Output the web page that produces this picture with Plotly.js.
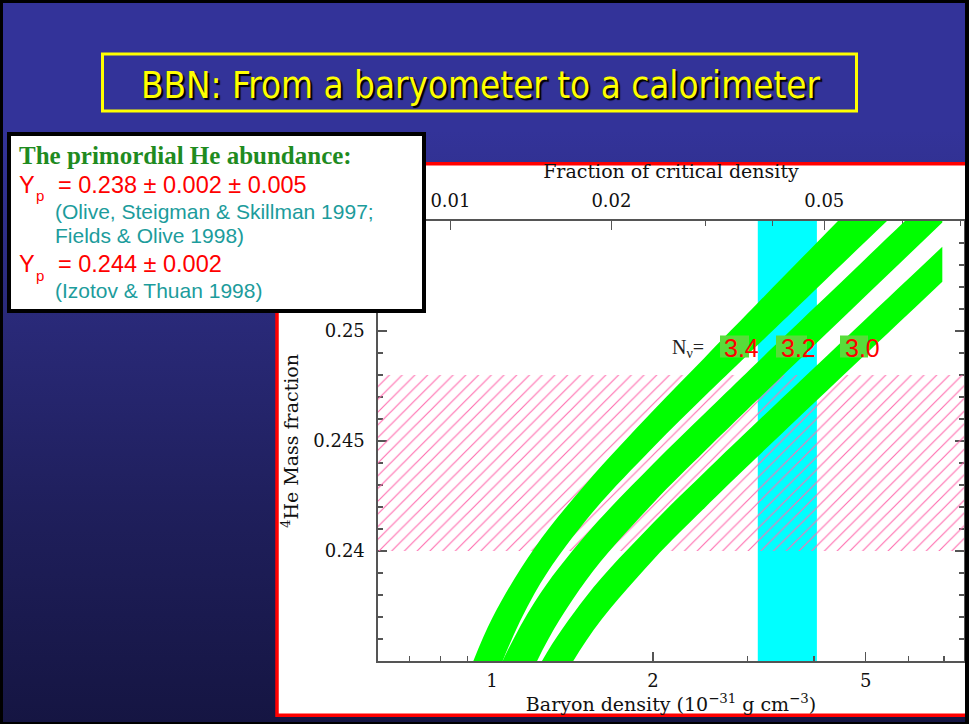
<!DOCTYPE html>
<html>
<head>
<meta charset="utf-8">
<script src="https://cdn.plot.ly/plotly-3.0.1.min.js"></script>
<style>
  html, body { margin: 0; padding: 0; }
  body {
    width: 969px; height: 724px; overflow: hidden; position: relative;
    background: linear-gradient(180deg, #333399 0%, #333399 18%, #2a2a7a 43%, #1f1f5c 70%, #151542 100%);
  }
  #chart { position: absolute; left: 0; top: 0; width: 969px; height: 724px; }
  #frame {
    position: absolute; left: 0; top: 0; width: 969px; height: 724px;
    box-sizing: border-box; border-style: solid; border-color: #000;
    border-width: 3px 4px 2px 3px; pointer-events: none;
  }
</style>
</head>
<body>
<div id="chart"></div>
<div id="frame"></div>
<script>
// ---- data -----------------------------------------------------------------
// Baryon density (10^-31 g cm^-3) at which the band edges are sampled
const rhoGrid = [0.9, 1.0, 1.2, 1.5, 2.0, 2.5, 3.0, 4.0, 5.0, 6.0, 6.95];

// 4He mass fraction along the upper / lower edge of each N_nu band
const yp34Upper = [0.23433, 0.23693, 0.24013, 0.24307, 0.24637, 0.24880, 0.25078, 0.25389, 0.25629, 0.25825, 0.25983];
const yp34Lower = [0.22971, 0.23373, 0.23806, 0.24141, 0.24470, 0.24704, 0.24890, 0.25182, 0.25408, 0.25592, 0.25740];
const yp32Upper = [0.23062, 0.23393, 0.23766, 0.24075, 0.24395, 0.24626, 0.24813, 0.25104, 0.25330, 0.25514, 0.25662];
const yp32Lower = [0.22351, 0.22909, 0.23474, 0.23867, 0.24217, 0.24454, 0.24642, 0.24934, 0.25160, 0.25344, 0.25493];
const yp30Upper = [0.22485, 0.22951, 0.23437, 0.23793, 0.24127, 0.24359, 0.24544, 0.24832, 0.25055, 0.25236, 0.25383];
const yp30Lower = [0.21739, 0.22451, 0.23145, 0.23592, 0.23959, 0.24197, 0.24384, 0.24673, 0.24896, 0.25077, 0.25224];

// N_nu value of each band
const nuLabels = ['3.4', '3.2', '3.0'];

// Observed primordial helium range (hatched) and preferred baryon density range (cyan)
const heliumRange = [0.240, 0.248];
const rhoBand = [3.14, 4.05];

// Axis ranges and ticks
const rhoRange = [0.612, 7.63];
const ypRange = [0.235, 0.255];
const criticalDensity = 83.6;          // 10^-31 g cm^-3, converts density to Omega_b
const rhoMajor = [1, 2, 5];
const rhoMinor = [0.7, 0.8, 0.9, 3, 4, 6, 7];
const omegaMajor = [0.01, 0.02, 0.05];
const omegaLabels = ['0.01', '0.02', '0.05'];
const omegaMinor = [0.03, 0.04, 0.06, 0.07, 0.08, 0.09];
const ypMajor = [0.24, 0.245, 0.25];
const ypLabels = ['0.24', '0.245', '0.25'];
const ypMinor = [0.236, 0.237, 0.238, 0.239, 0.241, 0.242, 0.243, 0.244,
                 0.246, 0.247, 0.248, 0.249, 0.251, 0.252, 0.253, 0.254];

// ---- page geometry ----------------------------------------------------------
const W = 969, H = 724;
const M = { l: 378, r: 5, t: 221, b: 63 };
const PW = W - M.l - M.r, PH = H - M.t - M.b;
const px = v => (v - M.l) / PW;            // page x -> paper x
const py = v => (H - M.b - v) / PH;        // page y -> paper y

const SERIF = '"DejaVu Serif", serif';
const TIMES = '"Liberation Serif", "Times New Roman", serif';
const ARIAL = '"Liberation Sans", Arial, sans-serif';
const COND = '"DejaVu Sans Condensed", "Liberation Sans Narrow", "Roboto Condensed", "DejaVu Sans", sans-serif';
const GREEN = '#00ff00';

// ---- traces -----------------------------------------------------------------
const traces = [];

// hatched helium abundance strip
traces.push({
  x: [rhoRange[0], rhoRange[1], rhoRange[1], rhoRange[0]],
  y: [heliumRange[0], heliumRange[0], heliumRange[1], heliumRange[1]],
  mode: 'lines', line: { width: 0 }, fill: 'toself',
  fillcolor: 'rgba(0,0,0,0)',
  fillpattern: { shape: '/', size: 9, solidity: 0.13, fgcolor: '#ff6fb0', bgcolor: 'rgba(0,0,0,0)' },
  hoverinfo: 'skip', showlegend: false
});

// BBN prediction bands
const bands = [[yp34Lower, yp34Upper], [yp32Lower, yp32Upper], [yp30Lower, yp30Upper]];
bands.forEach(([lo, hi]) => {
  const common = { x: rhoGrid, mode: 'lines', line: { width: 0, shape: 'spline', smoothing: 1, color: GREEN },
                   hoverinfo: 'skip', showlegend: false };
  traces.push(Object.assign({}, common, { y: lo }));
  traces.push(Object.assign({}, common, { y: hi, fill: 'tonexty', fillcolor: GREEN }));
});

// carrier for the top (Omega_b) axis
traces.push({ x: omegaMajor, y: omegaMajor.map(() => ypRange[0] - 1), xaxis: 'x2', yaxis: 'y',
              mode: 'markers', marker: { opacity: 0 }, hoverinfo: 'skip', showlegend: false });

// ---- axes -------------------------------------------------------------------
const tickStyle = { ticks: 'inside', tickcolor: '#555', tickwidth: 1.3 };
const axisBase = Object.assign({
  showgrid: false, zeroline: false, showline: true, linecolor: '#555', linewidth: 1.6,
  ticklen: 9, layer: 'below traces', tickmode: 'array',
  tickfont: { family: SERIF, size: 18, color: '#111' }
}, tickStyle);
const titleFont = { family: SERIF, size: 19, color: '#111' };

const lg = Math.log10;
const layout = {
  width: W, height: H, autosize: false,
  margin: { l: M.l, r: M.r, t: M.t, b: M.b, pad: 0 },
  paper_bgcolor: 'rgba(0,0,0,0)', plot_bgcolor: 'rgba(0,0,0,0)',
  showlegend: false,
  xaxis: Object.assign({}, axisBase, {
    type: 'log', range: [lg(rhoRange[0]), lg(rhoRange[1])],
    tickvals: rhoMajor, ticktext: rhoMajor.map(String), ticklabelstandoff: 3,
    minor: Object.assign({ tickmode: 'array', tickvals: rhoMinor, ticklen: 5 }, tickStyle),
    title: { text: 'Baryon density (10<sup>\u221231</sup> g cm<sup>\u22123</sup>)', font: titleFont, standoff: 5 }
  }),
  xaxis2: Object.assign({}, axisBase, {
    type: 'log', overlaying: 'x', anchor: 'y', side: 'top',
    range: [lg(rhoRange[0] / criticalDensity), lg(rhoRange[1] / criticalDensity)],
    tickvals: omegaMajor, ticktext: omegaLabels, ticklabelstandoff: 5,
    minor: Object.assign({ tickmode: 'array', tickvals: omegaMinor, ticklen: 5 }, tickStyle),
    title: { text: 'Fraction of critical density', font: titleFont, standoff: 6 }
  }),
  yaxis: Object.assign({}, axisBase, {
    range: ypRange, mirror: 'ticks',
    tickvals: ypMajor, ticktext: ypLabels, ticklabelstandoff: 8,
    minor: Object.assign({ tickmode: 'array', tickvals: ypMinor, ticklen: 5 }, tickStyle),
    title: { text: '<sup>4</sup>He Mass fraction', font: titleFont, standoff: 9 }
  }),
  shapes: [],
  annotations: []
};

// ---- decorations ------------------------------------------------------------
const S = layout.shapes, A = layout.annotations;

// white panel with red border holding the plot
S.push({ type: 'rect', xref: 'paper', yref: 'paper', layer: 'below',
         x0: px(277), x1: px(990), y0: py(163.7), y1: py(715.3),
         fillcolor: '#ffffff', line: { color: '#ff0000', width: 3.5 } });
// preferred density band
S.push({ type: 'rect', xref: 'x', yref: 'paper', layer: 'below',
         x0: rhoBand[0], x1: rhoBand[1], y0: 0, y1: 1,
         fillcolor: '#00ffff', line: { width: 0 } });
// slide title frame
S.push({ type: 'rect', xref: 'paper', yref: 'paper', layer: 'above',
         x0: px(102.5), x1: px(856.5), y0: py(54), y1: py(111),
         fillcolor: 'rgba(0,0,0,0)', line: { color: '#ffff00', width: 3 } });
// abundance box
S.push({ type: 'rect', xref: 'paper', yref: 'paper', layer: 'above',
         x0: px(9), x1: px(424), y0: py(134), y1: py(311),
         fillcolor: '#ffffff', line: { color: '#000000', width: 4 } });

const note = (text, x, y, font, xanchor) => A.push({
  text, xref: 'paper', yref: 'paper', x: px(x), y: py(y),
  xanchor: xanchor || 'left', yanchor: 'middle', showarrow: false, font
});

note('BBN: From a baryometer to a calorimeter', 480, 85,
     { family: COND, size: 36.5, color: '#ffff00', shadow: '2px 2px 1px #000' }, 'center');

const red = s => ({ family: ARIAL, size: s, color: '#ff0000' });
const teal = { family: ARIAL, size: 21, color: '#1c9c9c' };
note('The primordial He abundance:', 17, 155, { family: TIMES, size: 25, color: '#1f8b1f', weight: 'bold' });
note('Y', 17, 185, red(23.5));
note('p', 34, 196, red(15));
note('= 0.238 \u00b1 0.002 \u00b1 0.005', 56, 185, red(23.5));
note('(Olive, Steigman &amp; Skillman 1997;', 53, 211, teal);
note('Fields &amp; Olive 1998)', 53, 235, teal);
note('Y', 17, 264, red(23.5));
note('p', 34, 275, red(15));
note('= 0.244 \u00b1 0.002', 56, 264, red(23.5));
note('(Izotov &amp; Thuan 1998)', 53, 290, teal);

// N_nu labels on the bands
note('N<sub>\u03bd</sub>=', 670, 348, { family: TIMES, size: 20, color: '#222' });
const labelBoxes = [[720, 749], [776, 807], [840, 868]];
const labelText = [721.5, 779, 843];
nuLabels.forEach((t, i) => {
  S.push({ type: 'rect', xref: 'paper', yref: 'paper', layer: 'above',
           x0: px(labelBoxes[i][0]), x1: px(labelBoxes[i][1]), y0: py(335.5), y1: py(357.5),
           fillcolor: '#58dc3a', line: { width: 0 } });
  note(t, labelText[i], 348, red(25));
});

Plotly.newPlot('chart', traces, layout, { staticPlot: true, displayModeBar: false });
</script>
</body>
</html>
